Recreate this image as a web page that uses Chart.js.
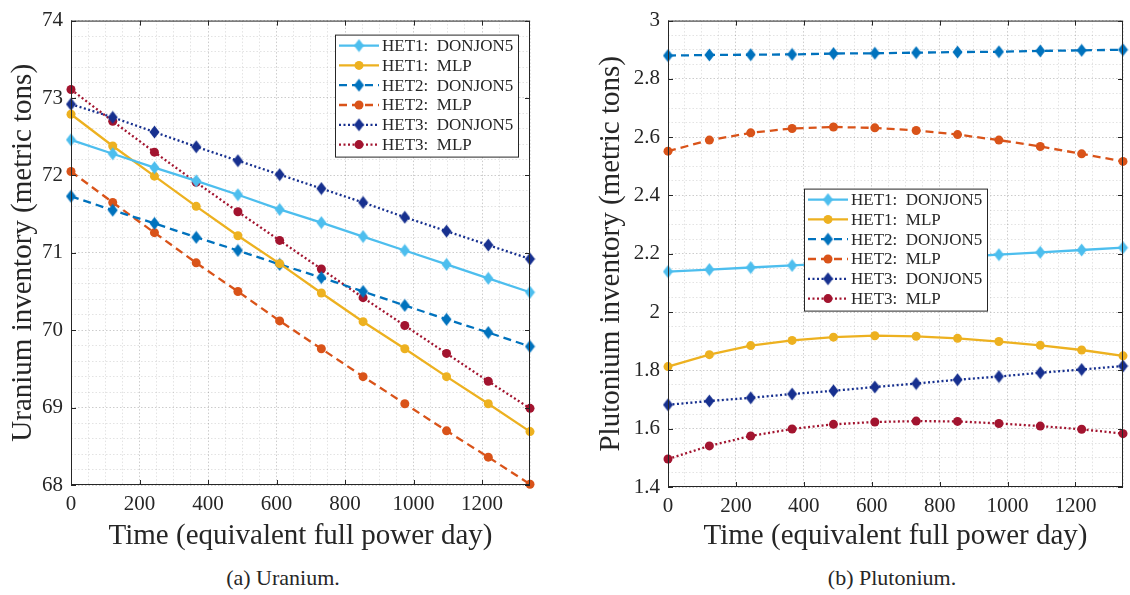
<!DOCTYPE html>
<html>
<head>
<meta charset="utf-8">
<script src="https://cdn.jsdelivr.net/npm/chart.js@4.4.0/dist/chart.umd.min.js"></script>
<style>
body{margin:0;background:#fff;width:1130px;height:595px;position:relative;overflow:hidden;font-family:'Liberation Serif',serif;}
#uChart{position:absolute;left:0;top:0;}
#puChart{position:absolute;left:565px;top:0;}
.cap{position:absolute;top:565px;font-size:22px;color:#262626;text-align:center;width:400px;line-height:26px;}
</style>
</head>
<body>
<canvas id="uChart" width="560" height="560"></canvas>
<canvas id="puChart" width="565" height="560"></canvas>
<div class="cap" style="left:83px">(a) Uranium.</div>
<div class="cap" style="left:692px">(b) Plutonium.</div>
<script>
// time steps (EFPD)
const days = [0, 121.8, 243.6, 365.5, 487.3, 609.1, 730.9, 852.7, 974.5, 1096.4, 1218.2, 1340];
const seriesNames = ['HET1:  DONJON5', 'HET1:  MLP', 'HET2:  DONJON5', 'HET2:  MLP', 'HET3:  DONJON5', 'HET3:  MLP'];

// uranium inventory (metric tons)
const uHet1Donjon = [72.46, 72.28, 72.10, 71.93, 71.75, 71.56, 71.39, 71.21, 71.03, 70.85, 70.67, 70.49];
const uHet1Mlp    = [72.79, 72.38, 71.99, 71.60, 71.22, 70.86, 70.48, 70.11, 69.76, 69.40, 69.05, 68.69];
const uHet2Donjon = [71.73, 71.55, 71.38, 71.20, 71.03, 70.85, 70.68, 70.50, 70.32, 70.14, 69.97, 69.79];
const uHet2Mlp    = [72.05, 71.65, 71.26, 70.87, 70.50, 70.12, 69.76, 69.40, 69.05, 68.70, 68.36, 68.01];
const uHet3Donjon = [72.92, 72.75, 72.56, 72.37, 72.19, 72.01, 71.83, 71.65, 71.46, 71.28, 71.10, 70.92];
const uHet3Mlp    = [73.11, 72.70, 72.30, 71.91, 71.53, 71.16, 70.79, 70.42, 70.06, 69.70, 69.34, 68.99];

// plutonium inventory (metric tons)
const puHet1Donjon = [2.139, 2.146, 2.153, 2.160, 2.167, 2.174, 2.182, 2.189, 2.197, 2.205, 2.213, 2.221];
const puHet1Mlp    = [1.813, 1.854, 1.885, 1.903, 1.914, 1.919, 1.917, 1.910, 1.899, 1.886, 1.870, 1.850];
const puHet2Donjon = [2.880, 2.882, 2.883, 2.884, 2.887, 2.888, 2.890, 2.892, 2.893, 2.896, 2.898, 2.900];
const puHet2Mlp    = [2.552, 2.590, 2.615, 2.630, 2.635, 2.632, 2.623, 2.609, 2.590, 2.568, 2.543, 2.517];
const puHet3Donjon = [1.682, 1.695, 1.706, 1.719, 1.730, 1.743, 1.755, 1.768, 1.779, 1.792, 1.803, 1.815];
const puHet3Mlp    = [1.496, 1.541, 1.575, 1.599, 1.615, 1.623, 1.626, 1.625, 1.618, 1.609, 1.598, 1.583];

const colors = ['#4DBEEE', '#EDB120', '#0072BD', '#D95319', '#17308F', '#A2142F'];
const dashes = [[], [], [8, 5], [8, 5], [2, 2.5], [2, 2.5]];
const isDiamond = [true, false, true, false, true, false];
const axisColor = '#262626';
const serif = "'Liberation Serif', serif";

function diamond(color) {
    const c = document.createElement('canvas');
    c.width = 11; c.height = 14;
    const g = c.getContext('2d');
    g.fillStyle = color;
    g.beginPath();
    g.moveTo(5.5, 0.5); g.lineTo(10.5, 7); g.lineTo(5.5, 13.5); g.lineTo(0.5, 7);
    g.closePath(); g.fill();
    return c;
}
const diamonds = colors.map(diamond);

function buildDatasets(series) {
    return series.map((vals, i) => ({
        label: seriesNames[i],
        data: vals.map((v, k) => ({x: days[k], y: v})),
        borderColor: colors[i],
        backgroundColor: colors[i],
        borderWidth: 2.3,
        borderDash: dashes[i],
        pointStyle: isDiamond[i] ? diamonds[i] : 'circle',
        pointRadius: 4.5,
        pointBorderWidth: 0,
        pointBackgroundColor: colors[i],
        tension: 0,
        clip: false
    }));
}

//----PLUGINS----
// MATLAB-like legend box drawn inside the axes
const boxLegend = {
    id: 'boxLegend',
    afterDraw(chart, args, opts) {
        const {ctx, chartArea: {left, right, top}} = chart;
        const w = 183, h = 122;
        const bx = opts.fromRight != null ? right - opts.fromRight - w : left + opts.fromLeft;
        const by = top + opts.fromTop;
        ctx.save();
        ctx.fillStyle = '#fff';
        ctx.fillRect(bx, by, w, h);
        ctx.strokeStyle = axisColor;
        ctx.lineWidth = 1;
        ctx.strokeRect(bx + 0.5, by + 0.5, w, h);
        chart.data.datasets.forEach((ds, i) => {
            const cy = by + 11 + i * 19.8;
            ctx.strokeStyle = ds.borderColor;
            ctx.lineWidth = 2.3;
            ctx.setLineDash(ds.borderDash);
            ctx.beginPath();
            ctx.moveTo(bx + 4, cy); ctx.lineTo(bx + 44, cy);
            ctx.stroke();
            ctx.setLineDash([]);
            if (isDiamond[i]) {
                ctx.drawImage(diamonds[i], bx + 24 - 5.5, cy - 7);
            } else {
                ctx.fillStyle = ds.borderColor;
                ctx.beginPath(); ctx.arc(bx + 24, cy, 4.5, 0, Math.PI * 2); ctx.fill();
            }
            ctx.fillStyle = axisColor;
            ctx.font = "17px " + serif;
            ctx.textBaseline = 'middle';
            ctx.fillText(ds.label, bx + 47, cy + 1);
        });
        ctx.restore();
    }
};

// axes box with inward tick marks
const axesBox = {
    id: 'axesBox',
    afterDatasetsDraw(chart, args, opts) {
        const {ctx, chartArea: {left, right, top, bottom}, scales: {x, y}} = chart;
        ctx.save();
        ctx.strokeStyle = axisColor;
        ctx.lineWidth = 1;
        ctx.strokeRect(left + 0.5, top + 0.5, right - left - 1, bottom - top - 1);
        ctx.beginPath();
        x.ticks.forEach(t => {
            if (!opts.xMajor(t.value)) return;
            const px = Math.round(x.getPixelForValue(t.value)) + 0.5;
            ctx.moveTo(px, bottom); ctx.lineTo(px, bottom - 5);
            ctx.moveTo(px, top); ctx.lineTo(px, top + 5);
        });
        y.ticks.forEach(t => {
            if (!opts.yMajor(t.value)) return;
            const py = Math.round(y.getPixelForValue(t.value)) + 0.5;
            ctx.moveTo(left, py); ctx.lineTo(left + 5, py);
            ctx.moveTo(right, py); ctx.lineTo(right - 5, py);
        });
        ctx.stroke();
        ctx.restore();
    }
};

const near = (v, step) => Math.abs(v / step - Math.round(v / step)) < 1e-6;

function makeConfig(series, yMin, yMax, yMinor, yMajorStep, yTitle, yAxisWidth, yTitlePad, padTop, padRight, legendPos) {
    const xMajor = v => near(v, 200) && v <= 1200;
    const yMajor = v => near(v, yMajorStep);
    return {
        type: 'line',
        data: {datasets: buildDatasets(series)},
        options: {
            responsive: false,
            animation: false,
            layout: {padding: {top: padTop, right: padRight, left: 0, bottom: 0}},
            scales: {
                x: {
                    type: 'linear', min: 0, max: 1340,
                    afterFit: s => { s.height = 560 - (padTop === 17 ? 485 : 487); },
                    ticks: {
                        stepSize: 50, autoSkip: false, maxRotation: 0, padding: 7,
                        color: axisColor, font: {family: serif, size: 21},
                        callback: v => xMajor(v) ? String(v) : ''
                    },
                    grid: {
                        drawTicks: false,
                        color: c => xMajor(c.tick.value) ? 'rgba(0,0,0,0.2)' : 'rgba(0,0,0,0.11)'
                    },
                    border: {display: false, dash: [1.5, 2]},
                    title: {display: true, text: 'Time (equivalent full power day)', color: axisColor,
                        font: {family: serif, size: 29}, padding: {top: 0, bottom: 6}}
                },
                y: {
                    min: yMin, max: yMax,
                    afterFit: s => { s.width = yAxisWidth; },
                    ticks: {
                        stepSize: yMinor, autoSkip: false, padding: 8,
                        color: axisColor, font: {family: serif, size: 21},
                        callback: v => yMajor(v) ? String(Math.round(v * 10) / 10) : ''
                    },
                    grid: {
                        drawTicks: false,
                        color: c => yMajor(c.tick.value) ? 'rgba(0,0,0,0.2)' : 'rgba(0,0,0,0.11)'
                    },
                    border: {display: false, dash: [1.5, 2]},
                    title: {display: true, text: yTitle, color: axisColor,
                        font: {family: serif, size: 29}, padding: {top: yTitlePad, bottom: 0}}
                }
            },
            plugins: {
                legend: {display: false},
                tooltip: {enabled: false},
                boxLegend: legendPos,
                axesBox: {xMajor, yMajor}
            }
        },
        plugins: [axesBox, boxLegend]
    };
}

const uChart = new Chart(document.getElementById('uChart'),
    makeConfig([uHet1Donjon, uHet1Mlp, uHet2Donjon, uHet2Mlp, uHet3Donjon, uHet3Mlp],
        68, 74, 0.2, 1, 'Uranium inventory (metric tons)', 71, 6, 17, 30, {fromRight: 12, fromTop: 14}));

const puChart = new Chart(document.getElementById('puChart'),
    makeConfig([puHet1Donjon, puHet1Mlp, puHet2Donjon, puHet2Mlp, puHet3Donjon, puHet3Mlp],
        1.4, 3, 0.05, 0.2, 'Plutonium inventory (metric tons)', 103, 29, 19, 3, {fromLeft: 136, fromTop: 168}));
</script>
</body>
</html>
